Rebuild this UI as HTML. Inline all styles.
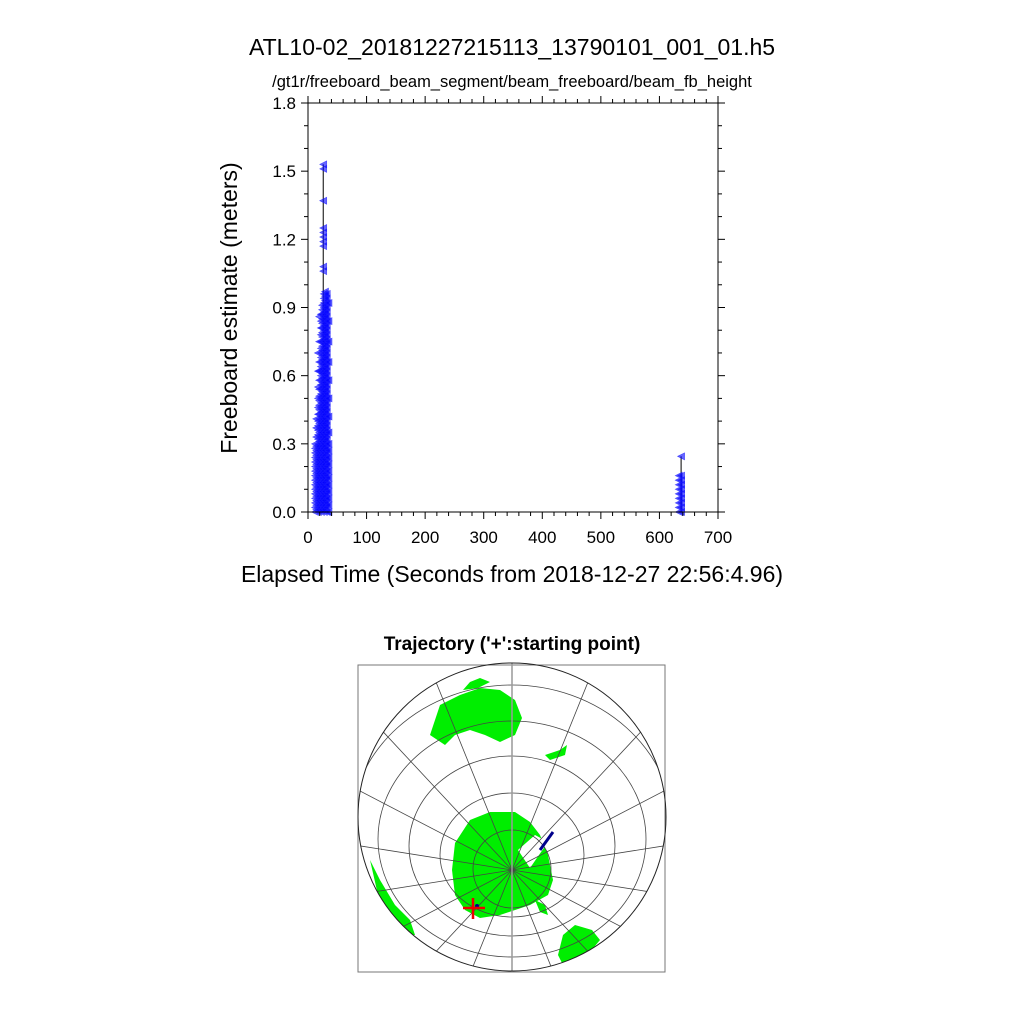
<!DOCTYPE html>
<html><head><meta charset="utf-8"><style>
html,body{margin:0;background:#fff;overflow:hidden;width:1024px;height:1024px;}
svg{display:block;font-family:"Liberation Sans",sans-serif;}
</style></head><body>
<svg id="root" width="1024" height="1024" viewBox="0 0 1024 1024">
<text x="512" y="55" font-size="23" text-anchor="middle">ATL10-02_20181227215113_13790101_001_01.h5</text>
<text x="512" y="87" font-size="16.5" text-anchor="middle">/gt1r/freeboard_beam_segment/beam_freeboard/beam_fb_height</text>
<g id="plot"></g>
<text x="237" y="308" font-size="23" text-anchor="middle" transform="rotate(-90 237 308)">Freeboard estimate (meters)</text>
<text x="512" y="582" font-size="23" text-anchor="middle">Elapsed Time (Seconds from 2018-12-27 22:56:4.96)</text>
<text x="512" y="650" font-size="19" font-weight="bold" text-anchor="middle">Trajectory ('+':starting point)</text>
<g id="map"></g>
</svg>
<script>
const xTicks=[0,100,200,300,400,500,600,700];
const yTicks=[0.0,0.3,0.6,0.9,1.2,1.5,1.8];
const yTickLabels=["0.0","0.3","0.6","0.9","1.2","1.5","1.8"];
const col12=[0.00,0.02,0.04,0.06,0.08,0.10,0.12,0.14,0.16,0.18,0.20,0.22,0.24,0.26,0.28,0.30];
const col14=[0.01,0.03,0.05,0.07,0.09,0.11,0.13,0.15,0.17,0.19,0.21,0.23,0.25,0.27,0.29,0.33,0.37,0.41];
const col17=[0.00,0.02,0.04,0.06,0.08,0.10,0.12,0.14,0.16,0.18,0.20,0.22,0.24,0.26,0.28,0.30,0.32,0.34,0.36,0.38,0.40,0.43,0.46,0.50,0.55,0.62,0.70];
const col19=[0.01,0.03,0.05,0.07,0.09,0.11,0.13,0.15,0.17,0.19,0.21,0.23,0.25,0.27,0.29,0.31,0.33,0.35,0.37,0.39,0.41,0.43,0.45,0.47,0.49,0.51,0.54,0.58,0.62,0.66,0.75,0.86];
const col22=[0.00,0.02,0.04,0.06,0.08,0.10,0.12,0.14,0.16,0.18,0.20,0.22,0.24,0.26,0.28,0.30,0.32,0.34,0.36,0.38,0.40,0.42,0.44,0.46,0.48,0.50,0.52,0.54,0.56,0.58,0.60,0.62,0.64,0.66,0.68,0.70,0.72,0.75,0.78,0.81,0.84,0.87];
const col24=[0.01,0.03,0.05,0.07,0.09,0.11,0.13,0.15,0.17,0.19,0.21,0.23,0.25,0.27,0.29,0.31,0.33,0.35,0.37,0.39,0.41,0.43,0.45,0.47,0.49,0.51,0.53,0.55,0.57,0.59,0.61,0.63,0.65,0.67,0.69,0.71,0.73,0.75,0.77,0.79,0.81,0.83,0.85,0.87,0.89,0.91];
const col27=[0.00,0.02,0.04,0.06,0.08,0.10,0.12,0.14,0.16,0.18,0.20,0.22,0.24,0.26,0.28,0.30,0.32,0.34,0.36,0.38,0.40,0.42,0.44,0.46,0.48,0.50,0.52,0.54,0.56,0.58,0.60,0.62,0.64,0.66,0.68,0.70,0.72,0.74,0.76,0.78,0.80,0.82,0.84,0.86,0.88,0.90,0.92,0.94,0.96];
const col29=[0.01,0.03,0.05,0.07,0.09,0.11,0.13,0.15,0.17,0.19,0.21,0.23,0.25,0.27,0.29,0.31,0.33,0.35,0.37,0.39,0.41,0.43,0.45,0.47,0.49,0.51,0.53,0.55,0.57,0.59,0.61,0.63,0.65,0.67,0.69,0.71,0.73,0.75,0.77,0.79,0.81,0.83,0.85,0.87,0.89,0.91,0.93,0.95,0.97];
const col32=[0.00,0.02,0.04,0.06,0.08,0.10,0.12,0.14,0.16,0.18,0.20,0.22,0.24,0.26,0.28,0.30,0.32,0.34,0.36,0.38,0.40,0.42,0.44,0.46,0.48,0.50,0.52,0.54,0.56,0.58,0.60,0.62,0.64,0.66,0.68,0.70,0.72,0.74,0.76,0.78,0.80,0.82,0.84,0.86,0.88,0.90,0.92,0.94,0.96];
const col35=[0.00,0.03,0.06,0.09,0.12,0.15,0.18,0.21,0.24,0.27,0.30,0.35,0.42,0.50,0.58,0.66,0.75,0.84,0.92];
const outliers26=[1.53,1.51,1.37,1.25,1.23,1.21,1.19,1.17,1.08,1.06];
const col633=[0.00,0.02,0.04,0.06,0.08,0.10,0.12,0.14,0.16];
const col637=[0.00,0.02,0.04,0.06,0.08,0.10,0.12,0.14,0.16,0.245];
const columns=[[12,col12],[14,col14],[17,col17],[19,col19],[22,col22],[24,col24],[27,col27],[29,col29],[32,col32],[35,col35],[26,outliers26],[633,col633],[637,col637]];

const NS="http://www.w3.org/2000/svg";
function mk(tag,attrs,parent){const e=document.createElementNS(NS,tag);for(const k in attrs)e.setAttribute(k,attrs[k]);parent.appendChild(e);return e;}
const X0=308,X1=718,Y0=512,Y1=103;
const sx=t=>X0+(t-0)/700*(X1-X0);
const sy=v=>Y0-(v-0)/1.8*(Y0-Y1);
const plot=document.getElementById('plot');
const l1=mk('line',{x1:sx(26),x2:sx(26),y1:sy(0),y2:sy(1.53),stroke:'#000','stroke-width':1},plot);


const l2=mk('line',{x1:sx(637),x2:sx(637),y1:sy(0),y2:sy(0.245),stroke:'#000','stroke-width':1},plot);


columns.forEach(([t,vals])=>{vals.forEach(v=>{
 const x=sx(t),y=sy(v);
 const p=mk('polygon',{points:`${x-3.5},${y} ${x+3.5},${y-3.5} ${x+3.5},${y+3.5}`,fill:'rgba(0,0,255,0.6)',stroke:'rgba(30,30,255,0.7)','stroke-width':0.6},plot);
 
 
});});
const fr=mk('rect',{x:X0,y:Y1,width:X1-X0,height:Y0-Y1,fill:'none',stroke:'#000','stroke-width':1},plot);


for(let t=0;t<=700;t+=20){const x=sx(t),len=t%100===0?7:4;
 mk('line',{x1:x,x2:x,y1:Y0,y2:Y0+len,stroke:'#000'},plot);
 mk('line',{x1:x,x2:x,y1:Y1,y2:Y1-len,stroke:'#000'},plot);}
for(let i=0;i<=18;i++){const v=i*0.1,y=sy(v),len=i%3===0?7:4;
 mk('line',{x1:X0,x2:X0-len,y1:y,y2:y,stroke:'#000'},plot);
 mk('line',{x1:X1,x2:X1+len,y1:y,y2:y,stroke:'#000'},plot);}
xTicks.forEach(t=>{const e=mk('text',{x:sx(t),y:Y0+31,'font-size':17,'text-anchor':'middle'},plot);e.textContent=t;
 
 });
yTicks.forEach((v,i)=>{const e=mk('text',{x:X0-12,y:sy(v)+6,'font-size':17,'text-anchor':'end'},plot);e.textContent=yTickLabels[i];
 
 });

const map=document.getElementById('map');
mk('rect',{x:358,y:665,width:307,height:307,fill:'#fff',stroke:'#777','stroke-width':1},map);
const defs=mk('defs',{},map);
const cp=mk('clipPath',{id:'globe'},defs);
mk('circle',{cx:512,cy:817,r:154},cp);
const g=mk('g',{'clip-path':'url(#globe)'},map);
const green='#00ee00';
[
 "430,735 440,705 460,695 480,688 500,690 515,700 522,718 515,735 500,742 485,735 470,730 455,735 445,745",
 "455,843 470,820 490,812 515,812 530,822 540,835 548,855 553,880 548,895 530,905 500,915 480,918 465,910 455,895 452,870",
 "563,935 575,925 592,930 600,940 590,952 575,960 563,965 558,955",
 "370,860 380,880 395,905 410,920 415,935 405,935 390,915 378,895",
 "545,755 560,750 567,745 565,755 550,760",
 "463,690 470,682 480,678 490,682 478,688",
 "535,900 545,905 548,915 540,912"
].forEach(pts=>{const p=mk('polygon',{points:pts,fill:green},g);
 
 });
mk('polygon',{points:"518,850 535,835 548,842 530,868",fill:'#fff'},g);
[[512,869,39,39],[512,855,72,62],[512,846,103,90],[512,839,134,118],[512,831,162,146],[512,825,190,175]].forEach(([cx,cy,rx,ry])=>{
 mk('ellipse',{cx,cy,rx,ry,fill:'none',stroke:'#444','stroke-width':0.8},g);});
for(let a=0;a<360;a+=20){const r=a*Math.PI/180;
 mk('line',{x1:512,y1:870,x2:512+320*Math.sin(r),y2:870-320*Math.cos(r)*0.9,stroke:'#444','stroke-width':0.8},g);}
mk('line',{x1:512,y1:663,x2:512,y2:972,stroke:'#999','stroke-width':1.5},map);
mk('circle',{cx:512,cy:817,r:154,fill:'none',stroke:'#222','stroke-width':1},map);
const tr=mk('line',{x1:540,y1:850,x2:553,y2:832,stroke:'#00008b','stroke-width':3},map);


mk('circle',{cx:477,cy:906,r:2,fill:'#00008b'},map);
const st=mk('path',{d:'M463 908 H485 M473 898 V919',stroke:'#ee0000','stroke-width':2.5,fill:'none'},map);


</script>
</body></html>
